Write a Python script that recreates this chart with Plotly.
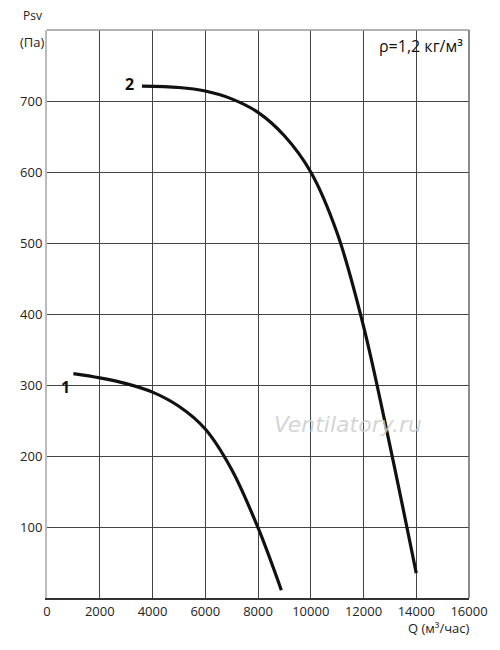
import plotly.graph_objects as go

# Curve 1
q1 = [1000, 2000, 3000, 4000, 5000, 6000, 7000, 8000, 8885]
p1 = [316, 310, 302, 290, 270, 238, 181, 99, 11]
# Curve 2
q2 = [3600, 5000, 6000, 7000, 8000, 9000, 10000, 11000, 12000, 13000, 14000]
p2 = [721, 719, 714, 703, 684, 651, 600, 514, 383, 215, 35]

x_ticks = [0, 2000, 4000, 6000, 8000, 10000, 12000, 14000, 16000]
y_ticks = [100, 200, 300, 400, 500, 600, 700]

font = "Open Sans, Liberation Sans, sans-serif"

fig = go.Figure()
fig.add_trace(go.Scatter(x=q1, y=p1, mode="lines", line=dict(color="#111", width=3.2, shape="spline", smoothing=1),
                         showlegend=False, hoverinfo="skip"))
fig.add_trace(go.Scatter(x=q2, y=p2, mode="lines", line=dict(color="#111", width=3.2, shape="spline", smoothing=1),
                         showlegend=False, hoverinfo="skip"))

fig.update_layout(
    width=492, height=642,
    margin=dict(l=37, r=27, t=22, b=52),
    paper_bgcolor="white", plot_bgcolor="white",
    font=dict(family=font, size=13, color="#222"),
    xaxis=dict(range=[0, 16000], tickvals=x_ticks, ticktext=[str(v) for v in x_ticks],
               showgrid=True, gridcolor="#444", gridwidth=1, zeroline=False,
               showline=True, linecolor="#333", linewidth=2, mirror=False,
               ticks="", ticklen=0, tickfont=dict(size=13, family=font)),
    yaxis=dict(range=[0, 800], tickvals=y_ticks, ticktext=[str(v) for v in y_ticks],
               showgrid=True, gridcolor="#444", gridwidth=1, zeroline=False,
               showline=True, linecolor="#bbb", linewidth=2,
               ticks="", ticklen=0, tickfont=dict(size=13, family=font)),
    shapes=[
        dict(type="line", xref="paper", yref="paper", x0=0, x1=1, y0=1, y1=1,
             line=dict(color="#999", width=1.5)),
        dict(type="line", xref="paper", yref="paper", x0=1, x1=1, y0=0, y1=1,
             line=dict(color="#666", width=1.5)),
    ],
    annotations=[
        dict(text="Psv", xref="paper", yref="paper", x=-0.035, y=1.0, yshift=15,
             showarrow=False, xanchor="center", yanchor="middle", font=dict(size=12)),
        dict(text="(Па)", xref="paper", yref="paper", x=-0.035, y=1.0, yshift=-12,
             showarrow=False, xanchor="center", yanchor="middle", font=dict(size=13)),
        dict(text="Q (м³/час)", xref="paper", yref="paper", x=1.005, y=0, yshift=-30,
             showarrow=False, xanchor="right", yanchor="middle", font=dict(size=13)),
        dict(text="ρ=1,2 кг/м³", xref="paper", yref="paper", x=0.99, y=1.0, yshift=-16,
             showarrow=False, xanchor="right", yanchor="middle", font=dict(size=16, color="#111")),
        dict(text="<b>1</b>", x=q1[0], y=p1[0], xshift=-8, yshift=-13,
             showarrow=False, font=dict(size=16, color="#111")),
        dict(text="<b>2</b>", x=q2[0], y=p2[0], xshift=-12, yshift=2,
             showarrow=False, font=dict(size=16, color="#111")),
        dict(text="<i>Ventilatory.ru</i>", x=11400, y=245, showarrow=False,
             font=dict(size=22, color="rgba(205,205,205,0.85)", family="DejaVu Sans")),
    ],
)

fig.write_html("out.html")
